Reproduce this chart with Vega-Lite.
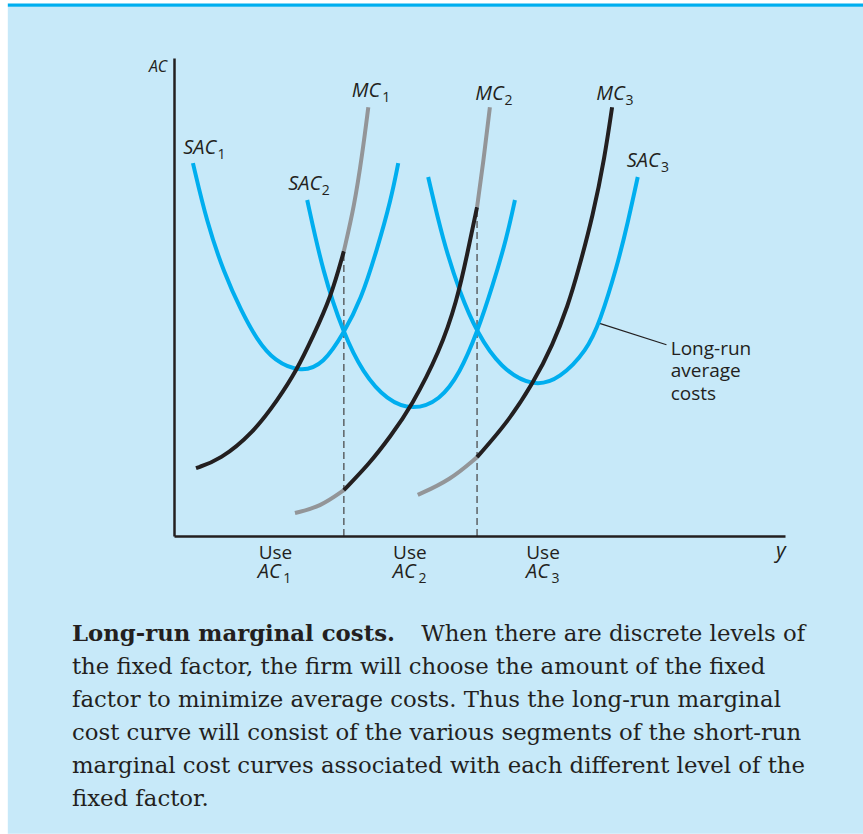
{
  "$schema": "https://vega.github.io/schema/vega-lite/v6.json",
  "width": 611,
  "height": 478,
  "autosize": {"type": "none"},
  "padding": {"left": 174, "top": 58, "right": 78, "bottom": 298},
  "background": "white",
  "config": {"view": {"stroke": null}},
  "datasets": {
    "panel": [{"x": -27.2, "x2": 112.8, "y": -62.3, "y2": 110.7}],
    "band": [{"x": -27.2, "x2": 112.8, "y": 110.7, "y2": 111.4}],
    "dashes": [{"x": 27.8, "y": 0, "y2": 59.6}, {"x": 49.6, "y": 0, "y2": 68.8}],
    "leader": [{"x": 69.4, "y": 44.6, "x2": 80.6, "y2": 40.0}],
    "curves": [
      {"seg": "SAC1", "type": "SAC", "x": 3.1, "y": 78.0},
      {"seg": "SAC1", "type": "SAC", "x": 5.4, "y": 65.5},
      {"seg": "SAC1", "type": "SAC", "x": 8.2, "y": 55.0},
      {"seg": "SAC1", "type": "SAC", "x": 11.0, "y": 47.1},
      {"seg": "SAC1", "type": "SAC", "x": 13.6, "y": 41.0},
      {"seg": "SAC1", "type": "SAC", "x": 16.4, "y": 36.6},
      {"seg": "SAC1", "type": "SAC", "x": 20.8, "y": 34.2},
      {"seg": "SAC1", "type": "SAC", "x": 24.5, "y": 36.0},
      {"seg": "SAC1", "type": "SAC", "x": 27.8, "y": 42.5},
      {"seg": "SAC1", "type": "SAC", "x": 30.6, "y": 49.4},
      {"seg": "SAC1", "type": "SAC", "x": 33.2, "y": 59.8},
      {"seg": "SAC1", "type": "SAC", "x": 35.5, "y": 70.3},
      {"seg": "SAC1", "type": "SAC", "x": 36.7, "y": 78.0},
      {"seg": "SAC2", "type": "SAC", "x": 21.8, "y": 70.3},
      {"seg": "SAC2", "type": "SAC", "x": 24.4, "y": 55.0},
      {"seg": "SAC2", "type": "SAC", "x": 27.7, "y": 42.5},
      {"seg": "SAC2", "type": "SAC", "x": 30.9, "y": 34.1},
      {"seg": "SAC2", "type": "SAC", "x": 34.9, "y": 28.3},
      {"seg": "SAC2", "type": "SAC", "x": 39.1, "y": 26.3},
      {"seg": "SAC2", "type": "SAC", "x": 43.5, "y": 28.3},
      {"seg": "SAC2", "type": "SAC", "x": 46.8, "y": 34.1},
      {"seg": "SAC2", "type": "SAC", "x": 49.6, "y": 42.5},
      {"seg": "SAC2", "type": "SAC", "x": 52.2, "y": 52.5},
      {"seg": "SAC2", "type": "SAC", "x": 54.5, "y": 62.6},
      {"seg": "SAC2", "type": "SAC", "x": 55.8, "y": 70.3},
      {"seg": "SAC3", "type": "SAC", "x": 41.6, "y": 75.1},
      {"seg": "SAC3", "type": "SAC", "x": 44.0, "y": 61.9},
      {"seg": "SAC3", "type": "SAC", "x": 46.8, "y": 50.8},
      {"seg": "SAC3", "type": "SAC", "x": 49.6, "y": 42.5},
      {"seg": "SAC3", "type": "SAC", "x": 53.4, "y": 35.2},
      {"seg": "SAC3", "type": "SAC", "x": 58.8, "y": 31.1},
      {"seg": "SAC3", "type": "SAC", "x": 63.2, "y": 32.9},
      {"seg": "SAC3", "type": "SAC", "x": 67.6, "y": 38.9},
      {"seg": "SAC3", "type": "SAC", "x": 69.7, "y": 44.8},
      {"seg": "SAC3", "type": "SAC", "x": 72.5, "y": 56.3},
      {"seg": "SAC3", "type": "SAC", "x": 74.3, "y": 65.7},
      {"seg": "SAC3", "type": "SAC", "x": 75.9, "y": 75.1},
      {"seg": "MC1a", "type": "LRMC", "x": 3.6, "y": 14.2},
      {"seg": "MC1a", "type": "LRMC", "x": 7.5, "y": 15.9},
      {"seg": "MC1a", "type": "LRMC", "x": 12.9, "y": 21.5},
      {"seg": "MC1a", "type": "LRMC", "x": 17.0, "y": 28.5},
      {"seg": "MC1a", "type": "LRMC", "x": 20.1, "y": 34.7},
      {"seg": "MC1a", "type": "LRMC", "x": 22.7, "y": 41.6},
      {"seg": "MC1a", "type": "LRMC", "x": 25.7, "y": 50.0},
      {"seg": "MC1a", "type": "LRMC", "x": 27.8, "y": 59.6},
      {"seg": "MC1b", "type": "SRMC", "x": 27.8, "y": 59.6},
      {"seg": "MC1b", "type": "SRMC", "x": 29.5, "y": 69.0},
      {"seg": "MC1b", "type": "SRMC", "x": 30.8, "y": 79.7},
      {"seg": "MC1b", "type": "SRMC", "x": 31.8, "y": 89.7},
      {"seg": "MC2a", "type": "SRMC", "x": 19.8, "y": 4.8},
      {"seg": "MC2a", "type": "SRMC", "x": 23.9, "y": 6.1},
      {"seg": "MC2a", "type": "SRMC", "x": 27.8, "y": 9.6},
      {"seg": "MC2b", "type": "LRMC", "x": 27.8, "y": 9.6},
      {"seg": "MC2b", "type": "LRMC", "x": 32.1, "y": 15.3},
      {"seg": "MC2b", "type": "LRMC", "x": 35.4, "y": 20.8},
      {"seg": "MC2b", "type": "LRMC", "x": 38.8, "y": 27.0},
      {"seg": "MC2b", "type": "LRMC", "x": 43.5, "y": 38.6},
      {"seg": "MC2b", "type": "LRMC", "x": 46.3, "y": 49.2},
      {"seg": "MC2b", "type": "LRMC", "x": 48.0, "y": 59.0},
      {"seg": "MC2b", "type": "LRMC", "x": 49.6, "y": 68.8},
      {"seg": "MC2c", "type": "SRMC", "x": 49.6, "y": 68.8},
      {"seg": "MC2c", "type": "SRMC", "x": 50.6, "y": 78.0},
      {"seg": "MC2c", "type": "SRMC", "x": 51.7, "y": 89.7},
      {"seg": "MC3a", "type": "SRMC", "x": 39.9, "y": 8.6},
      {"seg": "MC3a", "type": "SRMC", "x": 45.2, "y": 11.7},
      {"seg": "MC3a", "type": "SRMC", "x": 49.6, "y": 16.5},
      {"seg": "MC3b", "type": "LRMC", "x": 49.6, "y": 16.5},
      {"seg": "MC3b", "type": "LRMC", "x": 54.5, "y": 23.6},
      {"seg": "MC3b", "type": "LRMC", "x": 58.8, "y": 32.0},
      {"seg": "MC3b", "type": "LRMC", "x": 62.0, "y": 40.0},
      {"seg": "MC3b", "type": "LRMC", "x": 64.5, "y": 48.3},
      {"seg": "MC3b", "type": "LRMC", "x": 66.1, "y": 55.2},
      {"seg": "MC3b", "type": "LRMC", "x": 68.6, "y": 67.2},
      {"seg": "MC3b", "type": "LRMC", "x": 70.5, "y": 79.3},
      {"seg": "MC3b", "type": "LRMC", "x": 71.7, "y": 89.7}
    ],
    "italicMain": [
      {"t": "SAC", "x": 1.5, "y": 79.9},
      {"t": "SAC", "x": 18.7, "y": 72.4},
      {"t": "SAC", "x": 74.1, "y": 77.2},
      {"t": "MC", "x": 29.1, "y": 91.8},
      {"t": "MC", "x": 49.3, "y": 91.2},
      {"t": "MC", "x": 69.1, "y": 91.2},
      {"t": "AC", "x": 13.7, "y": -8.8},
      {"t": "AC", "x": 35.8, "y": -8.8},
      {"t": "AC", "x": 57.6, "y": -8.8}
    ],
    "subs": [
      {"t": "1", "x": 7.1, "y": 78.9},
      {"t": "2", "x": 24.2, "y": 71.4},
      {"t": "3", "x": 79.7, "y": 76.2},
      {"t": "1", "x": 34.1, "y": 90.8},
      {"t": "2", "x": 54.1, "y": 90.2},
      {"t": "3", "x": 73.9, "y": 90.2},
      {"t": "1", "x": 17.9, "y": -9.8},
      {"t": "2", "x": 40.0, "y": -9.8},
      {"t": "3", "x": 61.8, "y": -9.8}
    ],
    "useText": [
      {"t": "Use", "x": 16.6, "y": -4.8},
      {"t": "Use", "x": 38.6, "y": -4.8},
      {"t": "Use", "x": 60.4, "y": -4.8}
    ],
    "lrText": [
      {"t": "Long-run", "x": 81.3, "y": 37.9},
      {"t": "average", "x": 81.3, "y": 33.3},
      {"t": "costs", "x": 81.3, "y": 28.5}
    ],
    "acLabel": [{"t": "AC", "x": -1.1, "y": 97.1}],
    "yLabel": [{"t": "y", "x": 99.3, "y": -4.6}],
    "capBold": [{"t": "Long-run marginal costs.", "x": -16.7, "y": -22.0}],
    "capRight": [{"t": "When there are discrete levels of", "x": 103.3, "y": -22.0}],
    "capLines": [
      {"t": "the fixed factor, the firm will choose the amount of the fixed", "x": -16.7, "y": -28.9},
      {"t": "factor to minimize average costs.  Thus the long-run marginal", "x": -16.7, "y": -35.8},
      {"t": "cost curve will consist of the various segments of the short-run", "x": -16.7, "y": -42.7},
      {"t": "marginal cost curves associated with each different level of the", "x": -16.7, "y": -49.6},
      {"t": "fixed factor.", "x": -16.7, "y": -56.5}
    ]
  },
  "encoding": {
    "x": {
      "field": "x",
      "type": "quantitative",
      "scale": {"domain": [0, 100], "nice": false, "zero": false},
      "axis": {"domain": true, "domainColor": "#231f20", "domainWidth": 2.5, "ticks": false, "labels": false, "title": null, "grid": false, "zindex": 1}
    },
    "y": {
      "field": "y",
      "type": "quantitative",
      "scale": {"domain": [0, 100], "nice": false, "zero": false},
      "axis": {"domain": true, "domainColor": "#231f20", "domainWidth": 2.5, "ticks": false, "labels": false, "title": null, "grid": false, "zindex": 1}
    }
  },
  "layer": [
    {
      "data": {"name": "panel"},
      "mark": {"type": "rect", "color": "#c7e9f9"},
      "encoding": {"x2": {"field": "x2"}, "y2": {"field": "y2"}}
    },
    {
      "data": {"name": "band"},
      "mark": {"type": "rect", "color": "#00aeef"},
      "encoding": {"x2": {"field": "x2"}, "y2": {"field": "y2"}}
    },
    {
      "data": {"name": "dashes"},
      "mark": {"type": "rule", "color": "#4d4d4f", "strokeWidth": 1.3, "strokeDash": [7, 4]},
      "encoding": {"y2": {"field": "y2"}}
    },
    {
      "data": {"name": "leader"},
      "mark": {"type": "rule", "color": "#231f20", "strokeWidth": 1.2},
      "encoding": {"x2": {"field": "x2"}, "y2": {"field": "y2"}}
    },
    {
      "data": {"name": "curves"},
      "mark": {"type": "line", "strokeWidth": 4, "interpolate": "basis", "strokeCap": "butt"},
      "encoding": {
        "color": {"field": "type", "type": "nominal", "scale": {"domain": ["SAC", "LRMC", "SRMC"], "range": ["#00aeef", "#231f20", "#939598"]}, "legend": null},
        "detail": {"field": "seg"}
      }
    },
    {
      "data": {"name": "italicMain"},
      "mark": {"type": "text", "align": "left", "baseline": "alphabetic", "font": "Open Sans", "fontStyle": "italic", "fontSize": 20, "color": "#231f20"},
      "encoding": {"text": {"field": "t"}}
    },
    {
      "data": {"name": "subs"},
      "mark": {"type": "text", "align": "left", "baseline": "alphabetic", "font": "Open Sans", "fontSize": 14, "color": "#231f20"},
      "encoding": {"text": {"field": "t"}}
    },
    {
      "data": {"name": "useText"},
      "mark": {"type": "text", "align": "center", "baseline": "alphabetic", "font": "Open Sans", "fontSize": 19, "color": "#231f20"},
      "encoding": {"text": {"field": "t"}}
    },
    {
      "data": {"name": "lrText"},
      "mark": {"type": "text", "align": "left", "baseline": "alphabetic", "font": "Open Sans", "fontSize": 19, "color": "#231f20"},
      "encoding": {"text": {"field": "t"}}
    },
    {
      "data": {"name": "acLabel"},
      "mark": {"type": "text", "align": "right", "baseline": "alphabetic", "font": "Open Sans", "fontStyle": "italic", "fontSize": 16, "color": "#231f20"},
      "encoding": {"text": {"field": "t"}}
    },
    {
      "data": {"name": "yLabel"},
      "mark": {"type": "text", "align": "center", "baseline": "alphabetic", "font": "Open Sans", "fontStyle": "italic", "fontSize": 21, "color": "#231f20"},
      "encoding": {"text": {"field": "t"}}
    },
    {
      "data": {"name": "capBold"},
      "mark": {"type": "text", "align": "left", "baseline": "alphabetic", "font": "DejaVu Serif", "fontWeight": "bold", "fontSize": 22.8, "color": "#231f20"},
      "encoding": {"text": {"field": "t"}}
    },
    {
      "data": {"name": "capRight"},
      "mark": {"type": "text", "align": "right", "baseline": "alphabetic", "font": "DejaVu Serif", "fontSize": 22.8, "color": "#231f20"},
      "encoding": {"text": {"field": "t"}}
    },
    {
      "data": {"name": "capLines"},
      "mark": {"type": "text", "align": "left", "baseline": "alphabetic", "font": "DejaVu Serif", "fontSize": 22.8, "color": "#231f20"},
      "encoding": {"text": {"field": "t"}}
    }
  ]
}
